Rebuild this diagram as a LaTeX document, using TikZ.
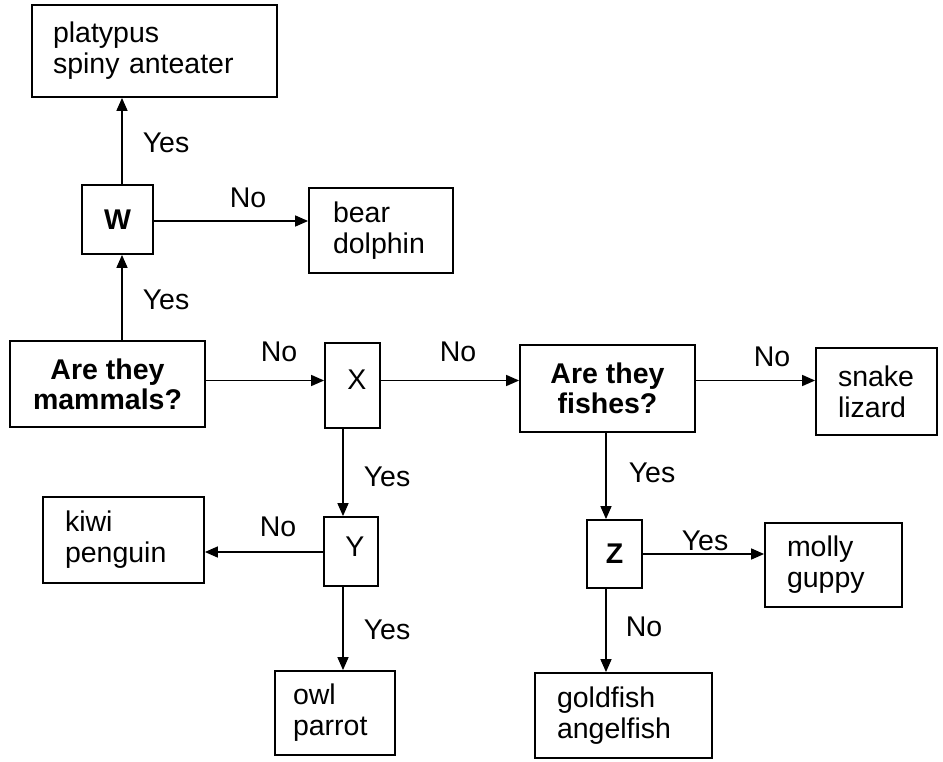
\documentclass[tikz,border=0pt]{standalone}
\usepackage{fontspec}
\setmainfont{Liberation Sans}
\usetikzlibrary{arrows.meta}
\begin{document}
\begin{tikzpicture}[x=1pt,y=-1pt,
  every node/.style={font=\fontsize{28.5}{31}\selectfont},
  box/.style={draw, line width=1.8pt, inner ysep=0pt},
  lbox/.style={box, align=left},
  cbox/.style={box, align=center, inner xsep=0pt, font=\fontsize{28.5}{30}\selectfont\bfseries},
  letter/.style={box, inner sep=0pt},
  lab/.style={inner sep=0pt},
  arr/.style={line width=1.5pt, -{Triangle[length=13pt,width=11pt]}}
]
\useasboundingbox (0,0) rectangle (943,761);

% boxes
\node[lbox, text width=203pt, inner xsep=21pt, minimum height=92pt] (P) at (154.5,51) {platypus\\spiny anteater};
\node[letter, minimum width=71pt, minimum height=69pt, font=\fontsize{28.5}{31}\selectfont\bfseries] (W) at (117.5,219.5) {W};
\node[lbox, text width=96pt, inner xsep=24pt, minimum height=85pt] (B) at (381,230.5) {bear\\dolphin};
\node[cbox, minimum width=195pt, minimum height=86pt] (M) at (107.5,384) {Are they\\mammals?};
\node[letter, minimum width=55pt, minimum height=85pt] (X) at (352.5,385.5) {};
\node[cbox, minimum width=175pt, minimum height=87pt] (F) at (607.5,388.5) {Are they\\fishes?};
\node[lbox, text width=77pt, inner xsep=22pt, minimum height=87pt] (S) at (876.5,391.5) {snake\\lizard};
\node[lbox, text width=117pt, inner xsep=22pt, minimum height=86pt] (K) at (123.5,540) {kiwi\\penguin};
\node[letter, minimum width=54pt, minimum height=69pt] (Y) at (351,551.5) {};
\node[letter, minimum width=55pt, minimum height=68pt, font=\fontsize{28.5}{31}\selectfont\bfseries] (Z) at (614.5,554) {Z};
\node[lbox, text width=93pt, inner xsep=22pt, minimum height=84pt] (Mo) at (833.5,565) {molly\\guppy};
\node[lbox, text width=84pt, inner xsep=18pt, minimum height=84pt] (O) at (335,713) {owl\\parrot};
\node[lbox, text width=133pt, inner xsep=22pt, minimum height=85pt] (G) at (623.5,715.5) {goldfish\\angelfish};

% letters of X and Y boxes, placed as in the reference
\node[lab] (Xt) at (357,380) {X};
\node[lab] (Yt) at (355,547) {Y};

% guide coordinates for connector positions
\coordinate (vW) at (122,0);
\coordinate (vX) at (343,0);
\coordinate (vF) at (606,0);
\coordinate (hW) at (0,221);
\coordinate (hM) at (0,380.5);
\coordinate (hY) at (0,552);
\coordinate (hZ) at (0,554);

% connectors
\draw[arr] (M.north -| vW) -- (W.south -| vW);
\draw[arr] (W.north -| vW) -- (P.south -| vW);
\draw[arr] (W.east |- hW) -- (B.west |- hW);
\draw[arr] (M.east |- hM) -- (X.west |- hM);
\draw[arr] (X.east |- hM) -- (F.west |- hM);
\draw[arr] (F.east |- hM) -- (S.west |- hM);
\draw[arr] (X.south -| vX) -- (Y.north -| vX);
\draw[arr] (Y.south -| vX) -- (O.north -| vX);
\draw[arr] (Y.west |- hY) -- (K.east |- hY);
\draw[arr] (F.south -| vF) -- (Z.north -| vF);
\draw[arr] (Z.south -| vF) -- (G.north -| vF);
\draw[arr] (Z.east |- hZ) -- (Mo.west |- hZ);

% labels
\node[lab] (l1) at (166,143) {Yes};
\node[lab] (l2) at (166,300) {Yes};
\node[lab] (l3) at (248,198) {No};
\node[lab] (l4) at (279,352) {No};
\node[lab] (l5) at (458,352) {No};
\node[lab] (l6) at (772,357) {No};
\node[lab] (l7) at (387,477) {Yes};
\node[lab] (l8) at (278,527) {No};
\node[lab] (l9) at (387,630) {Yes};
\node[lab] (l10) at (652,473) {Yes};
\node[lab] (l11) at (705,541) {Yes};
\node[lab] (l12) at (644,627) {No};
\end{tikzpicture}
\end{document}
